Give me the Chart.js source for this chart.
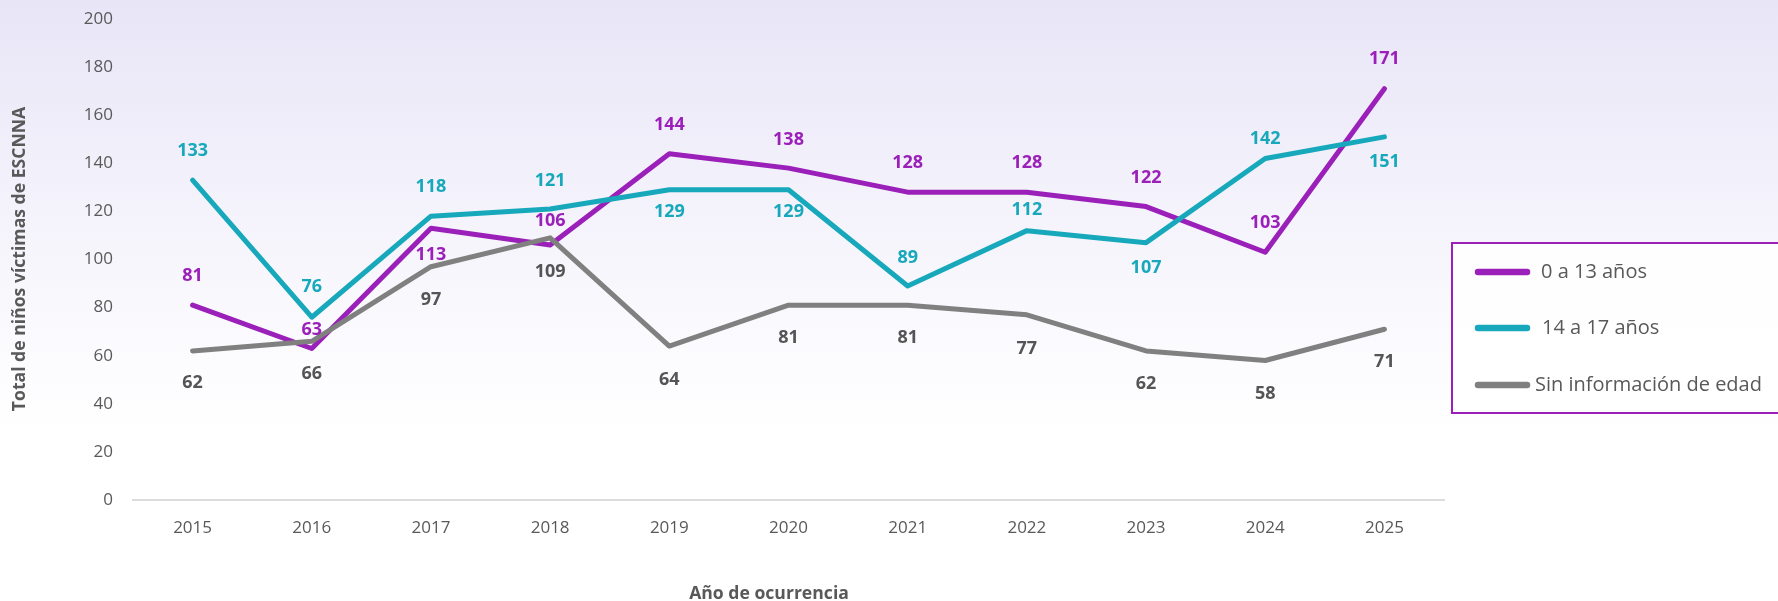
<!DOCTYPE html>
<html>
<head>
<meta charset="utf-8">
<title>ESCNNA</title>
<script src="https://cdn.jsdelivr.net/npm/chart.js@4.4.1/dist/chart.umd.min.js"></script>
<style>
    html, body { margin: 0; padding: 0; background: #fff; }
    #wrap { width: 1778px; height: 601px; }
</style>
</head>
<body>
<div id="wrap"><canvas id="chart" width="1778" height="601"></canvas></div>
<script>
// data
const years = ['2015', '2016', '2017', '2018', '2019', '2020', '2021', '2022', '2023', '2024', '2025'];
const kids0to13 = [81, 63, 113, 106, 144, 138, 128, 128, 122, 103, 171];
const teens14to17 = [133, 76, 118, 121, 129, 129, 89, 112, 107, 142, 151];
const noAgeInfo = [62, 66, 97, 109, 64, 81, 81, 77, 62, 58, 71];
const seriesNames = ['0 a 13 años', '14 a 17 años', 'Sin información de edad'];

const yMin = 0, yMax = 200, yStep = 20;
const xTitle = 'Año de ocurrencia';
const yTitle = 'Total de niños víctimas de ESCNNA';

// styles
const FONT = '"Open Sans", "Noto Sans", sans-serif';
const lineColors = ['#9b20b9', '#17a9bb', '#808080'];
const labelColors = ['#9b20b9', '#17a9bb', '#555555'];
const textGray = '#595959';

// where each value label sits relative to its point (px, negative = above)
const labelShift = [
    [-29, -19, 27, -24, -29, -28, -29, -29, -29, -29, -30],
    [-29, -30, -29, -28, 22, 22, -28, -21, 25, -20, 25],
    [32, 33, 33, 34, 34, 33, 33, 34, 33, 33, 33]
];

const backgroundPlugin = {
    id: 'bg',
    beforeDraw(chart) {
        const ctx = chart.ctx;
        const g = ctx.createLinearGradient(0, 0, 0, chart.height);
        g.addColorStop(0, '#e8e5f7');
        g.addColorStop(0.25, '#f1effa');
        g.addColorStop(0.5, '#f9f8fd');
        g.addColorStop(0.72, '#ffffff');
        g.addColorStop(1, '#ffffff');
        ctx.save();
        ctx.fillStyle = g;
        ctx.fillRect(0, 0, chart.width, chart.height);
        ctx.restore();
    }
};

const valueLabels = {
    id: 'valueLabels',
    afterDatasetsDraw(chart) {
        const ctx = chart.ctx;
        ctx.save();
        ctx.font = 'bold 18px ' + FONT;
        ctx.textAlign = 'center';
        ctx.textBaseline = 'middle';
        chart.data.datasets.forEach((ds, i) => {
            const meta = chart.getDatasetMeta(i);
            meta.data.forEach((pt, j) => {
                ctx.fillStyle = labelColors[i];
                ctx.fillText(String(ds.data[j]), pt.x, pt.y + labelShift[i][j]);
            });
        });
        ctx.restore();
    }
};

const titlesAndLegend = {
    id: 'titlesAndLegend',
    afterDraw(chart) {
        const ctx = chart.ctx;
        ctx.save();

        // axis titles
        ctx.fillStyle = textGray;
        ctx.font = 'bold 17.6px ' + FONT;
        ctx.textAlign = 'center';
        ctx.textBaseline = 'middle';
        ctx.fillText(xTitle, 769, 594);
        ctx.save();
        ctx.translate(20, 259);
        ctx.rotate(-Math.PI / 2);
        ctx.fillText(yTitle, 0, 0);
        ctx.restore();

        // legend box
        ctx.fillStyle = 'rgba(255,255,255,0.85)';
        ctx.fillRect(1452, 243, 330, 170);
        ctx.strokeStyle = lineColors[0];
        ctx.lineWidth = 2;
        ctx.strokeRect(1452, 243, 330, 170);

        const rows = [272, 328, 385];
        const textX = [1541, 1542, 1535];
        ctx.font = '20px ' + FONT;
        ctx.textAlign = 'left';
        chart.data.datasets.forEach((ds, i) => {
            ctx.strokeStyle = ds.borderColor;
            ctx.lineWidth = 6.5;
            ctx.lineCap = 'round';
            ctx.beginPath();
            ctx.moveTo(1478, rows[i]);
            ctx.lineTo(1527, rows[i]);
            ctx.stroke();
            ctx.fillStyle = textGray;
            ctx.fillText(ds.label, textX[i], rows[i]);
        });
        ctx.restore();
    }
};

const series = [kids0to13, teens14to17, noAgeInfo];

new Chart(document.getElementById('chart'), {
    type: 'line',
    data: {
        labels: years,
        datasets: series.map((values, i) => ({
            label: seriesNames[i],
            data: values,
            borderColor: lineColors[i],
            backgroundColor: lineColors[i],
            borderWidth: 5,
            borderCapStyle: 'round',
            borderJoinStyle: 'round',
            pointRadius: 0,
            tension: 0,
            order: 3 - i
        }))
    },
    options: {
        responsive: false,
        animation: false,
        devicePixelRatio: 1,
        layout: { padding: { left: 0, right: 334, top: 19, bottom: 0 } },
        plugins: {
            legend: { display: false },
            tooltip: { enabled: false }
        },
        scales: {
            x: {
                offset: true,
                grid: { display: false, drawTicks: false },
                border: { display: true, color: '#dcdcdc', width: 2 },
                ticks: { color: textGray, font: { family: FONT, size: 17 }, padding: 18 },
                afterFit: s => { s.height = 101; s.paddingLeft = 0; s.paddingRight = 0; }
            },
            y: {
                min: yMin,
                max: yMax,
                grid: { display: false, drawTicks: false },
                border: { display: false },
                ticks: { stepSize: yStep, color: textGray, font: { family: FONT, size: 17 }, padding: 20 },
                afterFit: s => { s.width = 133; s.paddingTop = 0; s.paddingBottom = 0; }
            }
        }
    },
    plugins: [backgroundPlugin, valueLabels, titlesAndLegend]
});
</script>
</body>
</html>
